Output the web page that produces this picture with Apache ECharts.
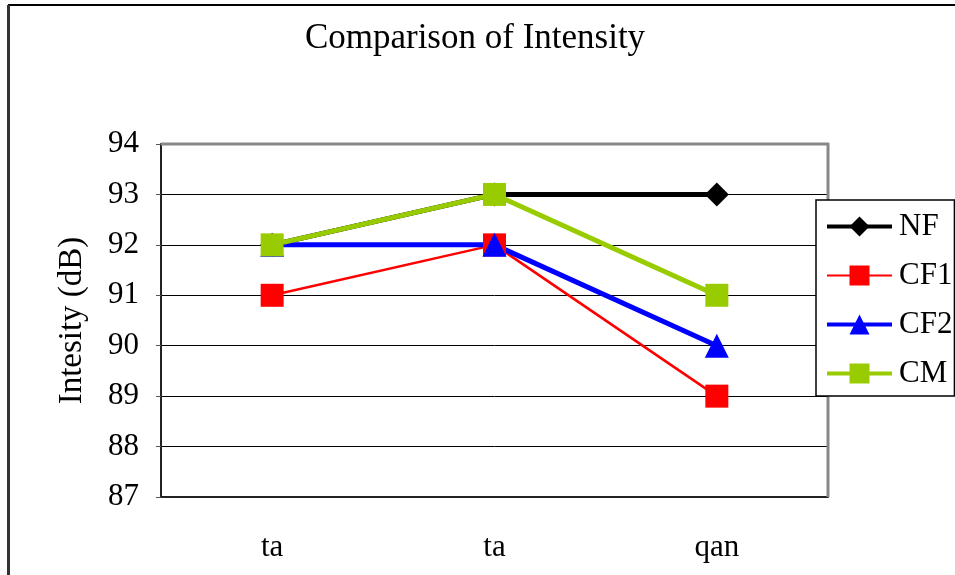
<!DOCTYPE html>
<html>
<head>
<meta charset="utf-8">
<script src="https://cdn.jsdelivr.net/npm/echarts@6/dist/echarts.min.js"></script>
<style>
  html, body { margin: 0; padding: 0; background: #fff; }
  #chart { width: 955px; height: 575px; }
</style>
</head>
<body>
<div id="chart"></div>
<script>
// Intensity per syllable for each condition
const categories = ['ta', 'ta', 'qan'];
const nfValues  = [92, 93, 93];
const cf1Values = [91, 92, 89];
const cf2Values = [92, 92, 90];
const cmValues  = [92, 93, 91];
const yTicks = { min: 87, max: 94, step: 1 };

const FONT = '"Liberation Serif", "DejaVu Serif", serif';

const chart = echarts.init(document.getElementById('chart'), null, { renderer: 'canvas' });

function lineSeries(name, data, color, width, symbol, size) {
  return {
    name: name,
    type: 'line',
    data: data,
    symbol: symbol,
    symbolSize: size,
    showAllSymbol: true,
    lineStyle: { color: color, width: width },
    itemStyle: { color: color, borderWidth: 0 },
    emphasis: { disabled: true },
    animation: false
  };
}

chart.setOption({
  backgroundColor: '#fff',
  animation: false,
  title: {
    text: 'Comparison of Intensity',
    left: 470,
    top: 16,
    textAlign: 'center',
    textStyle: { fontFamily: FONT, fontSize: 35, fontWeight: 'normal', color: '#000' }
  },
  grid: { left: 161, right: 127, top: 144, bottom: 78, containLabel: false },
  legend: {
    orient: 'vertical',
    left: 816,
    top: 200,
    padding: [11, 2, 7, 9],
    itemWidth: 65,
    itemHeight: 25,
    itemGap: 18,
    borderColor: '#000',
    borderWidth: 1.5,
    backgroundColor: '#fff',
    textStyle: { fontFamily: FONT, fontSize: 31, color: '#000', padding: [0, 0, 0, 2] },
    data: [
      { name: 'NF',  lineStyle: { width: 4 } },
      { name: 'CF1', lineStyle: { width: 2 } },
      { name: 'CF2', lineStyle: { width: 4 } },
      { name: 'CM',  lineStyle: { width: 4 } }
    ]
  },
  xAxis: {
    type: 'category',
    data: categories,
    boundaryGap: true,
    axisLine: { lineStyle: { color: '#222', width: 2 } },
    axisTick: { inside: true, length: 7, lineStyle: { color: '#222', width: 1 } },
    axisLabel: { fontFamily: FONT, fontSize: 31, color: '#000', margin: 35 },
    splitLine: { show: false }
  },
  yAxis: {
    type: 'value',
    min: yTicks.min,
    max: yTicks.max,
    interval: yTicks.step,
    name: 'Intesity (dB)',
    nameLocation: 'middle',
    nameGap: 72,
    nameTextStyle: { fontFamily: FONT, fontSize: 33, color: '#000' },
    axisLine: { show: true, lineStyle: { color: '#222', width: 2 } },
    axisTick: { show: true, length: 5, lineStyle: { color: '#555' } },
    axisLabel: { fontFamily: FONT, fontSize: 31, color: '#000', margin: 22 },
    splitLine: { lineStyle: { color: '#000', width: 1 } }
  },
  graphic: [
    // outer chart border (top and left edges)
    { type: 'line', shape: { x1: 8, y1: 5, x2: 955, y2: 5 }, style: { stroke: '#000', lineWidth: 2 }, z: 100 },
    { type: 'line', shape: { x1: 8.5, y1: 5, x2: 8.5, y2: 575 }, style: { stroke: '#333', lineWidth: 3 }, z: 100 },
    // plot area border (top and right edges)
    { type: 'line', shape: { x1: 161, y1: 144, x2: 829, y2: 144 }, style: { stroke: '#888', lineWidth: 3 }, z: 1 },
    { type: 'line', shape: { x1: 828, y1: 143, x2: 828, y2: 497 }, style: { stroke: '#888', lineWidth: 3 }, z: 1 }
  ],
  series: [
    lineSeries('NF',  nfValues,  '#000000', 5, 'diamond',  24),
    lineSeries('CF1', cf1Values, '#FF0000', 2.5, 'rect',   23),
    lineSeries('CF2', cf2Values, '#0000FF', 5, 'triangle', 24),
    lineSeries('CM',  cmValues,  '#99CC00', 5, 'rect',     23)
  ]
});
</script>
</body>
</html>
